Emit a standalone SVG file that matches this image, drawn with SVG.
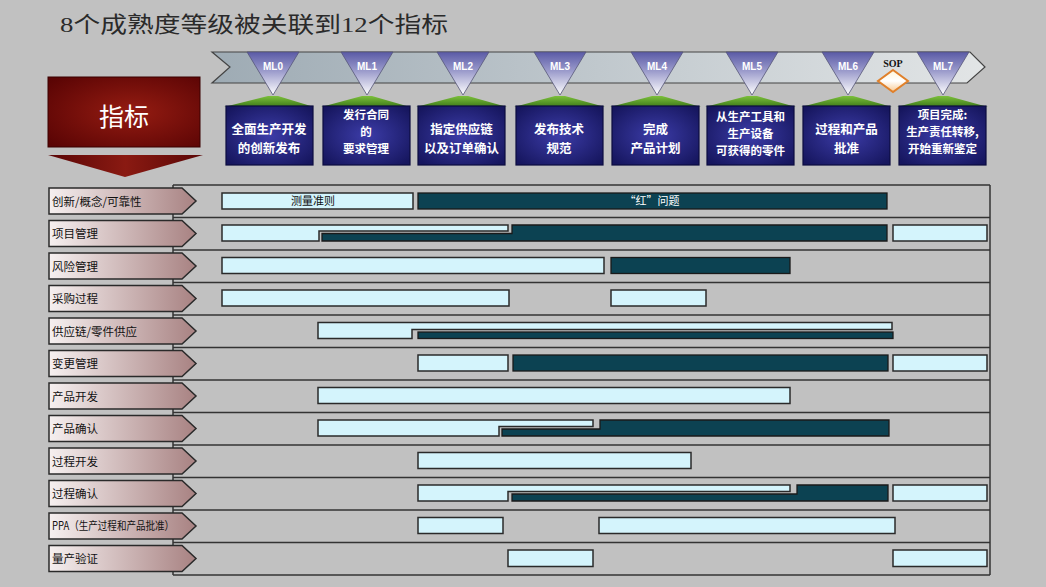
<svg xmlns="http://www.w3.org/2000/svg" width="1046" height="587" viewBox="0 0 1046 587">
<defs>
<style>
.cjk{font-family:"Noto Sans CJK SC","Noto Sans CJK JP",sans-serif;}
.ms{font-family:"Noto Sans CJK SC",sans-serif;font-size:12.5px;font-weight:bold;fill:#ffffff;text-anchor:middle;}
.ms3{font-family:"Noto Sans CJK SC",sans-serif;font-size:11.5px;font-weight:bold;fill:#ffffff;text-anchor:middle;}
.mlt{font-family:"Liberation Sans",sans-serif;font-size:10px;font-weight:bold;fill:#ffffff;text-anchor:middle;}
.lab{font-family:"Noto Sans CJK SC",sans-serif;font-size:11.5px;fill:#111111;}
.lt{fill:#d4f4fc;stroke:#2a2a2a;stroke-width:1.5;}
.dk{fill:#0c4252;stroke:#1a1a1a;stroke-width:1.3;}
.grid{stroke:#333333;stroke-width:1.5;fill:none;}
.lbl{fill:url(#gLab);stroke:#2a2a2a;stroke-width:1.5;}
.tri{fill:url(#gTri);stroke:#555577;stroke-width:0.8;}
.cap{fill:url(#gCap);}
.box{fill:url(#gBox);stroke:#0c0c40;stroke-width:1.2;}
</style>
<linearGradient id="gBand" x1="0" y1="0" x2="1" y2="0">
<stop offset="0" stop-color="#9eabb4"/>
<stop offset="1" stop-color="#e2e5e6"/>
</linearGradient>
<linearGradient id="gTri" x1="0" y1="0" x2="0" y2="1">
<stop offset="0" stop-color="#5a5aa6"/>
<stop offset="0.45" stop-color="#9c9ccc"/>
<stop offset="1" stop-color="#ffffff"/>
</linearGradient>
<linearGradient id="gCap" x1="0" y1="0" x2="0" y2="1">
<stop offset="0" stop-color="#7cc03a"/>
<stop offset="1" stop-color="#3d7a1a"/>
</linearGradient>
<radialGradient id="gBox" cx="0.5" cy="0.5" r="0.65">
<stop offset="0" stop-color="#3c3ca8"/>
<stop offset="1" stop-color="#16165e"/>
</radialGradient>
<radialGradient id="gRed" cx="0.55" cy="0.5" r="0.7">
<stop offset="0" stop-color="#951c12"/>
<stop offset="1" stop-color="#5a0404"/>
</radialGradient>
<linearGradient id="gRedTri" x1="0" y1="0" x2="1" y2="0">
<stop offset="0" stop-color="#5a0606"/>
<stop offset="0.5" stop-color="#8a1a12"/>
<stop offset="1" stop-color="#5a0606"/>
</linearGradient>
<linearGradient id="gLab" x1="0" y1="0" x2="1" y2="0">
<stop offset="0" stop-color="#f6f0f0"/>
<stop offset="1" stop-color="#a88282"/>
</linearGradient>
<linearGradient id="gSop" x1="0" y1="0" x2="0" y2="1">
<stop offset="0" stop-color="#fff6d8"/>
<stop offset="0.5" stop-color="#ffffff"/>
<stop offset="1" stop-color="#f8c890"/>
</linearGradient>
</defs>

<rect x="0" y="0" width="1046" height="587" fill="#c1c1c1"/>

<text x="60" y="32" font-family="Liberation Serif,'Noto Sans CJK SC',serif" font-size="22" fill="#2a2a2a" textLength="388" lengthAdjust="spacingAndGlyphs">8个成熟度等级被关联到12个指标</text>

<g id="indicator-header">
<rect x="48" y="77" width="152" height="70" fill="url(#gRed)" stroke="#3a0000" stroke-width="1"/>
<text x="124" y="126" class="cjk" font-size="25" fill="#ffffff" text-anchor="middle">指标</text>
<polygon points="48,155 203,155 125,177" fill="url(#gRedTri)"/>
</g>

<g id="timeline">
<polygon points="212,52 970,52 985,67 967,83 212,83 230,67" fill="url(#gBand)" stroke="#444444" stroke-width="1.2"/>
</g>

<g id="ml0">
<polygon class="cap" points="224,107 268,96 278,96 314,107"/>
<rect class="box" x="226" y="106" width="87" height="59"/>
<polygon class="tri" points="247,52 299,52 273,95"/>
<text class="mlt" x="273" y="70">ML0</text>
<text class="ms" x="269" y="134">全面生产开发</text>
<text class="ms" x="269" y="153">的创新发布</text>
</g>
<g id="ml1">
<polygon class="cap" points="321,107 362,96 372,96 410,107"/>
<rect class="box" x="323" y="106" width="87" height="59"/>
<polygon class="tri" points="341,52 393,52 367,95"/>
<text class="mlt" x="367" y="70">ML1</text>
<text class="ms3" x="366" y="119">发行合同</text>
<text class="ms3" x="366" y="136">的</text>
<text class="ms3" x="366" y="153">要求管理</text>
</g>
<g id="ml2">
<polygon class="cap" points="416,107 458,96 468,96 507,107"/>
<rect class="box" x="418" y="106" width="87" height="59"/>
<polygon class="tri" points="437,52 489,52 463,95"/>
<text class="mlt" x="463" y="70">ML2</text>
<text class="ms" x="461.5" y="134">指定供应链</text>
<text class="ms" x="461.5" y="153">以及订单确认</text>
</g>
<g id="ml3">
<polygon class="cap" points="514,107 555,96 565,96 605,107"/>
<rect class="box" x="516" y="106" width="87" height="59"/>
<polygon class="tri" points="534,52 586,52 560,95"/>
<text class="mlt" x="560" y="70">ML3</text>
<text class="ms" x="559" y="134">发布技术</text>
<text class="ms" x="559" y="153">规范</text>
</g>
<g id="ml4">
<polygon class="cap" points="610,107 652,96 662,96 701,107"/>
<rect class="box" x="612" y="106" width="87" height="59"/>
<polygon class="tri" points="631,52 683,52 657,95"/>
<text class="mlt" x="657" y="70">ML4</text>
<text class="ms" x="655.5" y="134">完成</text>
<text class="ms" x="655.5" y="153">产品计划</text>
</g>
<g id="ml5">
<polygon class="cap" points="705,107 747,96 757,96 796,107"/>
<rect class="box" x="707" y="106" width="87" height="59"/>
<polygon class="tri" points="726,52 778,52 752,95"/>
<text class="mlt" x="752" y="70">ML5</text>
<text class="ms3" x="750.5" y="121">从生产工具和</text>
<text class="ms3" x="750.5" y="138">生产设备</text>
<text class="ms3" x="750.5" y="155">可获得的零件</text>
</g>
<g id="ml6">
<polygon class="cap" points="801,107 843,96 853,96 892,107"/>
<rect class="box" x="803" y="106" width="87" height="59"/>
<polygon class="tri" points="822,52 874,52 848,95"/>
<text class="mlt" x="848" y="70">ML6</text>
<text class="ms" x="846.5" y="134">过程和产品</text>
<text class="ms" x="846.5" y="153">批准</text>
</g>
<g id="sop">
<text x="893" y="67" font-family="Liberation Serif,serif" font-size="10" font-weight="bold" fill="#111111" text-anchor="middle">SOP</text>
<polygon points="893,70 908,81 893,92 878,81" fill="url(#gSop)" stroke="#e0802a" stroke-width="2"/>
</g>
<g id="ml7">
<polygon class="cap" points="897,107 938,96 948,96 988,107"/>
<rect class="box" x="899" y="106" width="87" height="59"/>
<polygon class="tri" points="917,52 969,52 943,95"/>
<text class="mlt" x="943" y="70">ML7</text>
<text class="ms3" x="942.5" y="119">项目完成:</text>
<text class="ms3" x="942.5" y="136">生产责任转移,</text>
<text class="ms3" x="942.5" y="153">开始重新鉴定</text>
</g>

<g id="connectors">
<line class="grid" x1="173" y1="185" x2="990" y2="185"/>
<line class="grid" x1="173" y1="217.5" x2="990" y2="217.5"/>
<line class="grid" x1="173" y1="250" x2="990" y2="250"/>
<line class="grid" x1="173" y1="282.5" x2="990" y2="282.5"/>
<line class="grid" x1="173" y1="315" x2="990" y2="315"/>
<line class="grid" x1="173" y1="347.5" x2="990" y2="347.5"/>
<line class="grid" x1="173" y1="380" x2="990" y2="380"/>
<line class="grid" x1="173" y1="412.5" x2="990" y2="412.5"/>
<line class="grid" x1="173" y1="445" x2="990" y2="445"/>
<line class="grid" x1="173" y1="477.5" x2="990" y2="477.5"/>
<line class="grid" x1="173" y1="510" x2="990" y2="510"/>
<line class="grid" x1="173" y1="542.5" x2="990" y2="542.5" stroke-width="2.6"/>
<line class="grid" x1="173" y1="575" x2="990" y2="575"/>
<line class="grid" x1="173" y1="185" x2="173" y2="575"/>
<line class="grid" x1="990" y1="185" x2="990" y2="575"/>
</g>

<g id="row1">
<polygon class="lbl" points="49,188 182,188 196,201 182,214 49,214"/>
<text class="lab" x="52" y="205.5">创新/概念/可靠性</text>
<rect class="lt" x="222" y="193" width="191" height="16"/>
<text class="cjk" x="313" y="205" font-size="11" fill="#111111" text-anchor="middle">测量准则</text>
<rect class="dk" x="418" y="193" width="469" height="16"/>
<text class="cjk" x="652" y="205" font-size="11" fill="#ffffff" text-anchor="middle">“红”问题</text>
</g>
<g id="row2">
<polygon class="lbl" points="49,220.5 182,220.5 196,233.5 182,246.5 49,246.5"/>
<text class="lab" x="52" y="238">项目管理</text>
<polygon class="lt" points="222,225 508,225 508,231 319,231 319,241 222,241"/>
<polygon class="dk" points="512,225 887,225 887,241 322,241 322,233.5 512,233.5"/>
<rect class="lt" x="893" y="225" width="94" height="16"/>
</g>
<g id="row3">
<polygon class="lbl" points="49,253 182,253 196,266 182,279 49,279"/>
<text class="lab" x="52" y="270.5">风险管理</text>
<rect class="lt" x="222" y="257.5" width="382" height="16"/>
<rect class="dk" x="611" y="257.5" width="179" height="16"/>
</g>
<g id="row4">
<polygon class="lbl" points="49,285.5 182,285.5 196,298.5 182,311.5 49,311.5"/>
<text class="lab" x="52" y="303">采购过程</text>
<rect class="lt" x="222" y="290" width="287" height="16"/>
<rect class="lt" x="611" y="290" width="95" height="16"/>
</g>
<g id="row5">
<polygon class="lbl" points="49,318 182,318 196,331 182,344 49,344"/>
<text class="lab" x="52" y="335.5">供应链/零件供应</text>
<polygon class="lt" points="318,322.5 892,322.5 892,329.5 412,329.5 412,338.5 318,338.5"/>
<rect class="dk" x="418" y="332" width="475" height="6.5"/>
</g>
<g id="row6">
<polygon class="lbl" points="49,350.5 182,350.5 196,363.5 182,376.5 49,376.5"/>
<text class="lab" x="52" y="368">变更管理</text>
<rect class="lt" x="418" y="355" width="90" height="16"/>
<rect class="dk" x="513" y="355" width="375" height="16"/>
<rect class="lt" x="893" y="355" width="94" height="16"/>
</g>
<g id="row7">
<polygon class="lbl" points="49,383 182,383 196,396 182,409 49,409"/>
<text class="lab" x="52" y="400.5">产品开发</text>
<rect class="lt" x="318" y="387.5" width="472" height="16"/>
</g>
<g id="row8">
<polygon class="lbl" points="49,415.5 182,415.5 196,428.5 182,441.5 49,441.5"/>
<text class="lab" x="52" y="433">产品确认</text>
<polygon class="lt" points="318,420 593,420 593,426.5 499,426.5 499,436 318,436"/>
<polygon class="dk" points="600,420 889,420 889,436 502,436 502,429 600,429"/>
</g>
<g id="row9">
<polygon class="lbl" points="49,448 182,448 196,461 182,474 49,474"/>
<text class="lab" x="52" y="465.5">过程开发</text>
<rect class="lt" x="418" y="452.5" width="273" height="16"/>
</g>
<g id="row10">
<polygon class="lbl" points="49,480.5 182,480.5 196,493.5 182,506.5 49,506.5"/>
<text class="lab" x="52" y="498">过程确认</text>
<polygon class="lt" points="418,485 790,485 790,491.5 508,491.5 508,501 418,501"/>
<polygon class="dk" points="797,485 888,485 888,501 512,501 512,494 797,494"/>
<rect class="lt" x="893" y="485" width="94" height="16"/>
</g>
<g id="row11">
<polygon class="lbl" points="49,513 182,513 196,526 182,539 49,539"/>
<text class="lab" x="52" y="530" font-size="10px" textLength="122" lengthAdjust="spacingAndGlyphs">PPA（生产过程和产品批准）</text>
<rect class="lt" x="418" y="517.5" width="85" height="16"/>
<rect class="lt" x="599" y="517.5" width="296" height="16"/>
</g>
<g id="row12">
<polygon class="lbl" points="49,545.5 182,545.5 196,558.5 182,571.5 49,571.5"/>
<text class="lab" x="52" y="563">量产验证</text>
<rect class="lt" x="508" y="550" width="85" height="16.5"/>
<rect class="lt" x="893" y="550" width="94" height="16.5"/>
</g>
</svg>
